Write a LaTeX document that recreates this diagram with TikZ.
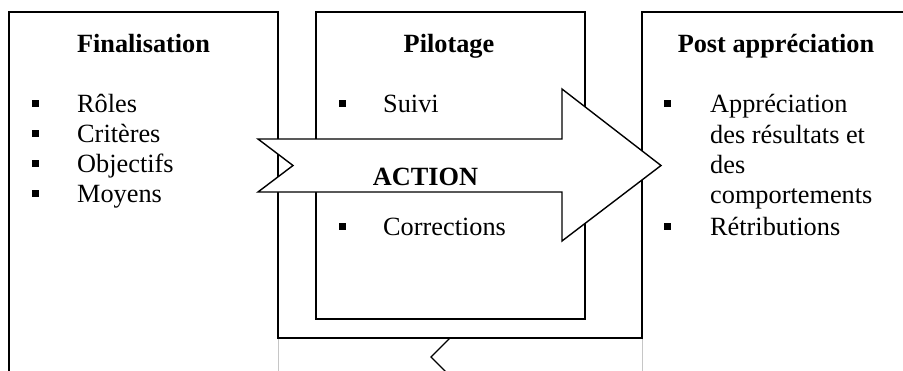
\documentclass[tikz,border=0pt]{standalone}
\usepackage{fontspec}
\setmainfont{Liberation Serif}
\tikzset{
  cadre/.style={line width=1.4pt},
  filet/.style={line width=0.8pt, gray!45},
  titre/.style={anchor=base, inner sep=0pt, font=\fontsize{26.3}{30}\selectfont\bfseries},
  item/.style={anchor=base west, inner sep=0pt, font=\fontsize{26.3}{30}\selectfont},
  puce/.style={fill, inner sep=0pt, minimum size=7pt},
}
\begin{document}
\begin{tikzpicture}[x=1pt,y=-1pt]
  \useasboundingbox (0,0) rectangle (903,370);
  \clip (0,0) rectangle (903,370);
  % cadres
  \draw[filet] (278,338) -- (278,380);
  \draw[filet] (642,338) -- (642,380);
  \draw[cadre] (9,380) -- (9,12) -- (278,12) -- (278,338) -- (642,338) -- (642,12) -- (910,12);
  \draw[cadre] (316,12) rectangle (585,319);
  \draw[cadre] (450,338) -- (431,357) -- (447,373);
  % fleche action
  \draw[cadre,fill=white] (258,139) -- (562,139) -- (562,89) -- (661,165.5)
      -- (562,241) -- (562,192) -- (258,192) -- (293,165.5) -- cycle;
  % finalisation
  \node[titre] (finalisation) at (143.5,52) {Finalisation};
  \foreach \txt [count=\i] in {Rôles,Critères,Objectifs,Moyens} {
    \node[item] (fin-\i) at (77,{81.7+30.3*\i}) {\txt};
    \node[puce] (puce-fin-\i) at (35,{72.7+30.3*\i}) {};
  }
  % pilotage
  \node[titre] (pilotage) at (449,52) {Pilotage};
  \node[item] (suivi) at (383,112) {Suivi};
  \node[puce] (puce-suivi) at (342,103) {};
  \node[titre] (action) at (425.5,185) {ACTION};
  \node[item] (corrections) at (383,235) {Corrections};
  \node[puce] (puce-corr) at (342,226) {};
  % post appreciation
  \node[titre] (post) at (776,52) {Post appréciation};
  \node[item] (appr-1) at (710,112) {Appréciation};
  \node[item] (appr-2) at (710,143) {des résultats et};
  \node[item] (appr-3) at (710,173) {des};
  \node[item] (appr-4) at (710,203) {comportements};
  \node[item] (retrib) at (710,235) {Rétributions};
  \node[puce] (puce-appr) at (667,103) {};
  \node[puce] (puce-retrib) at (667,226) {};
\end{tikzpicture}
\end{document}
